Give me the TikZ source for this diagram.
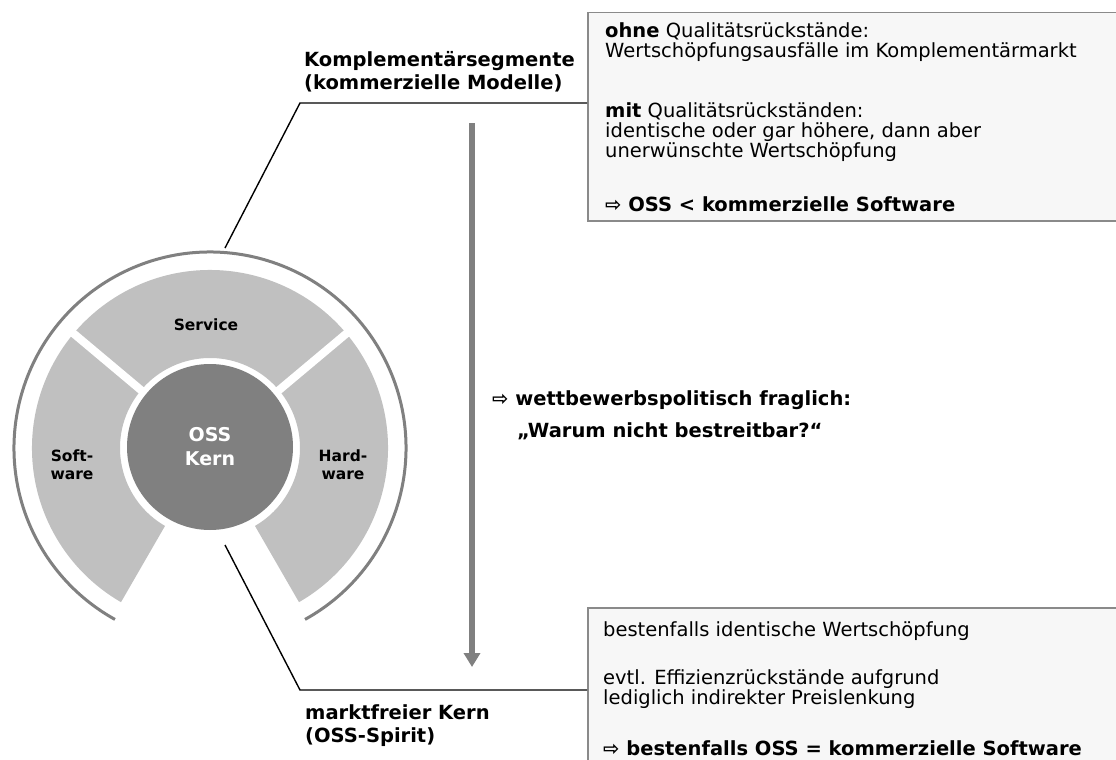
\documentclass[tikz,border=0pt]{standalone}
\usepackage{fontspec}
\setmainfont{DejaVu Sans}
\usetikzlibrary{arrows.meta}
\definecolor{ringgray}{HTML}{808080}
\definecolor{seggray}{HTML}{C0C0C0}
\definecolor{boxfill}{HTML}{F7F7F7}
\definecolor{boxline}{HTML}{8A8A8A}

\begin{document}
\begin{tikzpicture}[x=1pt,y=1pt,
  infobox/.style={draw=boxline, fill=boxfill, line width=1.5pt, anchor=north west, inner sep=0pt},
  connector/.style={draw=black, line width=1.4pt},
  bodytext/.style={anchor=north west, inner sep=0pt, align=left, font=\fontsize{19.5pt}{20pt}\selectfont},
  labeltext/.style={anchor=north west, inner sep=0pt, align=left, font=\fontsize{19.5pt}{23pt}\selectfont\bfseries},
  seglabel/.style={align=center, inner sep=0pt, font=\fontsize{15.5pt}{18pt}\selectfont\bfseries},
  bigarrow/.style={draw=ringgray, line width=6pt, -{Triangle[width=16pt,length=14pt]}}
]
\clip (0,0) rectangle (1116,-760);
\fill[white] (0,0) rectangle (1116,-760);

% outer ring and the three market segments around the core
\begin{scope}[shift={(210,-448)}]
  \draw[ringgray, line width=3pt] (-61:196pt) arc[start angle=-61, end angle=241, radius=196pt];
  \fill[seggray] (-60:178pt) arc[start angle=-60, end angle=240, radius=178pt]
     -- (240:90pt) arc[start angle=240, end angle=-60, radius=90pt] -- cycle;
  \draw[white, line width=8pt] (40:80pt) -- (40:186pt) (140:80pt) -- (140:186pt);
\end{scope}

\node[circle, fill=ringgray, minimum size=166pt, inner sep=0pt, text=white,
      align=center, font=\fontsize{19pt}{24pt}\selectfont\bfseries] (kern) at (210,-447) {OSS\\Kern};
\node[seglabel] (service) at (206,-325) {Service};
\node[seglabel] (software) at (72,-465) {Soft-\\ware};
\node[seglabel] (hardware) at (343,-465) {Hard-\\ware};

% information boxes
\node[infobox, minimum width=560pt, minimum height=208pt] (box1) at (587,-12) {};
\node[infobox, minimum width=560pt, minimum height=180pt] (box2) at (587,-607) {};

\node[bodytext] (box1text) at (605,-22.5) {\textbf{ohne} Qualitätsrückstände:\\Wertschöpfungsausfälle im Komplementärmarkt\\[40pt]\textbf{mit} Qualitätsrückständen:\\identische oder gar höhere, dann aber\\unerwünschte Wertschöpfung\\[34pt]\textbf{⇨ OSS < kommerzielle Software}};
\node[bodytext] (box2text) at (603,-621) {bestenfalls identische Wertschöpfung\\[28pt]evtl. Effizienzrückstände aufgrund\\lediglich indirekter Preislenkung\\[31pt]\textbf{⇨ bestenfalls OSS = kommerzielle Software}};

% segment labels
\node[labeltext] (komp) at (304,-51) {Komplementärsegmente\\(kommerzielle Modelle)};
\node[labeltext] (frei) at (305,-704) {marktfreier Kern\\(OSS-Spirit)};
\node[labeltext, font=\fontsize{19.5pt}{32pt}\selectfont\bfseries] (frage) at (492,-390)
  {⇨ wettbewerbspolitisch fraglich:\\\hspace*{25pt}„Warum nicht bestreitbar?“};

% connectors
\coordinate (segtop) at (225,-248);
\coordinate (bendtop) at (300,-103);
\coordinate (coretip) at (225,-545);
\coordinate (bendbot) at (300,-690);
\draw[connector] (segtop) -- (bendtop) -- (box1.west |- bendtop);
\draw[connector] (coretip) -- (bendbot) -- (box2.west |- bendbot);

% vertical arrow
\coordinate (arrtop) at (472,-123);
\coordinate (arrtip) at (472,-667);
\draw[bigarrow] (arrtop) -- (arrtip);
\end{tikzpicture}
\end{document}
